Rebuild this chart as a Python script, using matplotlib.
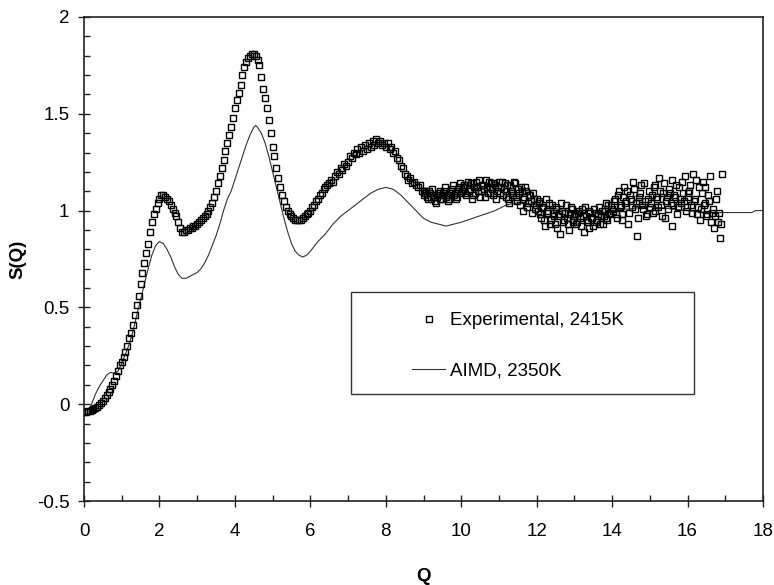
import numpy as np
import matplotlib.pyplot as plt
from matplotlib.patches import Rectangle
from matplotlib.ticker import MultipleLocator

plt.rcParams['font.family'] = ['Liberation Sans', 'DejaVu Sans']

# experimental structure factor, 2415 K (grid 0.05 in Q)
q_exp_low = np.round(np.arange(0, 9.001, 0.05), 2)
s_exp_low = [
    -0.04, -0.04, -0.035, -0.035, -0.03, -0.025, -0.02, -0.015, -0.005, 0.005,
    0.015, 0.03, 0.045, 0.065, 0.08, 0.10, 0.12, 0.145, 0.17, 0.20,
    0.22, 0.245, 0.27, 0.30, 0.34, 0.37, 0.41, 0.46, 0.51, 0.56,
    0.62, 0.68, 0.73, 0.78, 0.83, 0.89, 0.94, 0.98, 1.01, 1.04,
    1.06, 1.08, 1.08, 1.07, 1.06, 1.05, 1.03, 1.01, 0.99, 0.97,
    0.94, 0.91, 0.89, 0.89, 0.90, 0.90, 0.91, 0.91, 0.92, 0.92,
    0.93, 0.94, 0.95, 0.96, 0.97, 0.98, 1.00, 1.02, 1.04, 1.07,
    1.10, 1.14, 1.18, 1.22, 1.26, 1.31, 1.35, 1.39, 1.43, 1.48,
    1.53, 1.57, 1.61, 1.65, 1.70, 1.74, 1.77, 1.79, 1.80, 1.81,
    1.81, 1.80, 1.78, 1.75, 1.69, 1.63, 1.58, 1.53, 1.47, 1.40,
    1.33, 1.28, 1.22, 1.17, 1.12, 1.08, 1.05, 1.02, 1.00, 0.98,
    0.97, 0.96, 0.95, 0.95, 0.95, 0.95, 0.96, 0.97, 0.98, 0.99,
    1.00, 1.02, 1.03, 1.05, 1.06, 1.08, 1.09, 1.11, 1.12, 1.13,
    1.14, 1.16, 1.15, 1.18, 1.20, 1.19, 1.22, 1.21, 1.24, 1.23,
    1.25, 1.28, 1.27, 1.30, 1.29, 1.32, 1.30, 1.33, 1.31, 1.34,
    1.32, 1.35, 1.33, 1.36, 1.34, 1.37, 1.35, 1.36, 1.34, 1.35,
    1.33, 1.35, 1.32, 1.33, 1.30, 1.31, 1.27, 1.26, 1.23, 1.22,
    1.19, 1.18, 1.16, 1.17, 1.14, 1.15, 1.13, 1.12, 1.13, 1.10,
    1.10,
]
q_exp_high = np.round(np.arange(9.05, 16.901, 0.05), 2)
s_exp_high = [
    1.09, 1.07, 1.10, 1.06, 1.08, 1.05, 1.07, 1.09, 1.06, 1.08,
    1.10, 1.07, 1.05, 1.09, 1.11, 1.08, 1.06, 1.10, 1.12, 1.09,
    1.12, 1.09, 1.13, 1.10, 1.14, 1.08, 1.12, 1.15, 1.10, 1.07,
    1.13, 1.11, 1.16, 1.09, 1.12, 1.14, 1.08, 1.13, 1.10, 1.15,
    1.12, 1.08, 1.14, 1.10, 1.06, 1.13, 1.09, 1.15, 1.07, 1.11,
    1.03, 1.10, 1.06, 1.12, 1.02, 1.08, 1.05, 1.09, 1.01, 1.06,
    1.04, 0.98, 1.02, 0.95, 1.06, 0.99, 0.93, 1.03, 0.97, 1.01,
    0.91, 0.98, 1.04, 0.94, 0.99, 0.96, 0.90, 1.02, 0.95, 0.97,
    0.93, 0.99, 0.96, 1.01, 0.89, 0.97, 0.94, 1.00, 0.96, 0.92,
    0.99, 0.95, 1.02, 0.97, 0.93, 1.00, 0.96, 1.03, 0.98, 1.01,
    1.05, 0.98, 1.08, 1.02, 0.95, 1.07, 1.04, 1.10, 0.99, 1.06,
    1.15, 1.01, 0.87, 1.05, 1.09, 1.03, 1.14, 0.97, 1.06, 1.02,
    1.08, 1.12, 1.00, 1.06, 1.17, 1.03, 1.09, 0.96, 1.07, 1.11,
    1.04, 0.92, 1.08, 1.13, 1.02, 1.06, 1.15, 1.05, 1.00, 1.09,
    1.10, 1.03, 1.19, 1.06, 0.98, 1.12, 1.01, 1.15, 1.04, 0.97,
    1.08, 1.18, 0.99, 0.91, 1.06, 0.94, 0.86, 1.19,
]
# second detector bank, offset half a step
q_exp_bank2 = np.round(np.arange(9.025, 16.876, 0.05), 3)
s_exp_bank2 = [
    1.08, 1.10, 1.06, 1.09, 1.11, 1.07, 1.04, 1.08, 1.10, 1.06,
    1.09, 1.12, 1.08, 1.06, 1.10, 1.13, 1.09, 1.07, 1.11, 1.14,
    1.10, 1.13, 1.08, 1.15, 1.11, 1.06, 1.14, 1.09, 1.12, 1.16,
    1.10, 1.13, 1.07, 1.12, 1.15, 1.09, 1.11, 1.14, 1.06, 1.12,
    1.09, 1.15, 1.11, 1.07, 1.13, 1.04, 1.10, 1.08, 1.14, 1.05,
    1.09, 1.12, 1.00, 1.07, 1.10, 1.04, 1.08, 0.99, 1.06, 1.03,
    1.00, 1.05, 0.96, 1.02, 0.92, 1.00, 1.04, 0.95, 0.99, 0.93,
    1.02, 0.97, 0.88, 1.00, 0.95, 1.03, 0.93, 0.98, 1.01, 0.94,
    0.98, 0.94, 1.00, 0.92, 0.97, 1.02, 0.95, 0.91, 0.99, 0.96,
    1.01, 0.94, 0.98, 0.93, 1.00, 0.97, 1.04, 0.95, 0.99, 1.03,
    1.00, 1.06, 0.96, 1.10, 1.03, 0.98, 1.12, 1.05, 0.93, 1.08,
    1.02, 1.11, 1.04, 0.96, 1.07, 1.13, 1.01, 1.05, 0.98, 1.10,
    1.04, 0.99, 1.13, 1.07, 1.02, 1.10, 0.97, 1.14, 1.05, 1.01,
    1.09, 1.16, 1.03, 1.07, 0.98, 1.12, 1.04, 1.09, 1.18, 1.02,
    1.07, 1.13, 0.99, 1.05, 1.16, 1.02, 0.95, 1.09, 1.03, 1.12,
    0.98, 1.05, 0.94, 1.01, 0.97, 1.10, 0.99, 0.93,
]
q_exp = np.concatenate([q_exp_low, q_exp_high, q_exp_bank2])
s_exp = np.concatenate([s_exp_low, s_exp_high, s_exp_bank2])

# AIMD, 2350 K
q_aimd = [0.15, 0.2, 0.3, 0.4, 0.5, 0.6, 0.7, 0.8, 0.9, 1.0,
          1.1, 1.2, 1.3, 1.4, 1.5, 1.6, 1.7, 1.8, 1.9, 2.0,
          2.1, 2.2, 2.3, 2.4, 2.5, 2.6, 2.7, 2.8, 2.9, 3.0,
          3.1, 3.2, 3.3, 3.4, 3.5, 3.6, 3.7, 3.8, 3.9, 4.0,
          4.1, 4.2, 4.3, 4.4, 4.5, 4.55, 4.6, 4.7, 4.8, 4.9,
          5.0, 5.1, 5.2, 5.3, 5.4, 5.5, 5.6, 5.7, 5.8, 5.9,
          6.0, 6.2, 6.4, 6.6, 6.8, 7.0, 7.2, 7.4, 7.6, 7.8,
          8.0, 8.2, 8.4, 8.6, 8.8, 9.0, 9.2, 9.4, 9.6, 9.8,
          10.0, 10.3, 10.6, 10.9, 11.2, 11.5, 12.0, 12.5, 13.0, 13.5,
          14.0, 14.5, 15.0, 15.5, 16.0, 16.5, 17.7, 17.8, 18.0]
s_aimd = [-0.02, 0.0, 0.05, 0.09, 0.12, 0.15, 0.165, 0.16, 0.17, 0.21,
          0.26, 0.31, 0.38, 0.46, 0.54, 0.62, 0.70, 0.77, 0.82, 0.84,
          0.83, 0.80, 0.76, 0.71, 0.67, 0.65, 0.65, 0.66, 0.67, 0.68,
          0.70, 0.73, 0.77, 0.82, 0.87, 0.93, 1.00, 1.06, 1.10, 1.16,
          1.22, 1.28, 1.34, 1.39, 1.43, 1.44, 1.43, 1.40, 1.35, 1.28,
          1.20, 1.12, 1.04, 0.96, 0.89, 0.83, 0.79, 0.77, 0.76, 0.77,
          0.79, 0.84, 0.88, 0.93, 0.97, 1.00, 1.03, 1.06, 1.09, 1.11,
          1.12, 1.11, 1.08, 1.04, 1.00, 0.96, 0.94, 0.93, 0.92, 0.93,
          0.94, 0.96, 0.98, 1.00, 1.03, 1.04, 1.03, 1.01, 0.99, 0.98,
          1.00, 1.01, 1.02, 1.01, 1.00, 0.99, 0.99, 1.00, 1.00]

W, H = 774, 585
fig = plt.figure(figsize=(W / 100, H / 100), dpi=100)
ax = fig.add_axes([84 / W, 1 - 501 / H, (763 - 84) / W, (501 - 17) / H])

ax.plot(q_aimd, s_aimd, color='#333333', lw=0.8, label='AIMD, 2350K', zorder=2)
ax.plot(q_exp, s_exp, ls='none', marker='s', ms=5, mfc='none', mec='black',
        mew=1.0, label='Experimental, 2415K', zorder=3)

ax.set_xlim(0, 18)
ax.set_ylim(-0.5, 2)
ax.xaxis.set_major_locator(MultipleLocator(2))
ax.xaxis.set_minor_locator(MultipleLocator(1))
ax.yaxis.set_major_locator(MultipleLocator(0.5))
ax.yaxis.set_minor_locator(MultipleLocator(0.1))
ax.set_xticklabels([f'{v:g}' for v in ax.get_xticks()])
ax.set_yticklabels([f'{v:g}' for v in ax.get_yticks()])

ax.tick_params(which='major', direction='inout', length=9, width=1, labelsize=13.5, color='#222222')
ax.tick_params(axis='x', which='major', pad=11)
ax.tick_params(axis='y', which='major', pad=6)
ax.tick_params(which='minor', direction='in', length=4.5, width=1, color='#222222')
for sp in ax.spines.values():
    sp.set_linewidth(1.2)
    sp.set_color('#222222')

ax.set_xlabel('Q', fontsize=13.5, fontweight='bold')
ax.set_ylabel('S(Q)', fontsize=13.5, fontweight='bold')
ax.xaxis.set_label_coords(0.5, -0.138)
ax.yaxis.set_label_coords(-0.085, 0.5)

handles, labels = ax.get_legend_handles_labels()
leg = ax.legend(handles[::-1], labels[::-1], loc='upper left', frameon=False,
                bbox_to_anchor=(412 / W, 1 - 312 / H), bbox_transform=fig.transFigure,
                fontsize=13.5, numpoints=1, handlelength=1.76, handletextpad=0.25,
                labelspacing=1.8, borderpad=0, borderaxespad=0)

fig.patches.append(Rectangle((351 / W, 1 - 394 / H), 343 / W, 102 / H,
                             transform=fig.transFigure, fill=False,
                             ec='#333333', lw=1))

fig.savefig('out.png', dpi=100)
